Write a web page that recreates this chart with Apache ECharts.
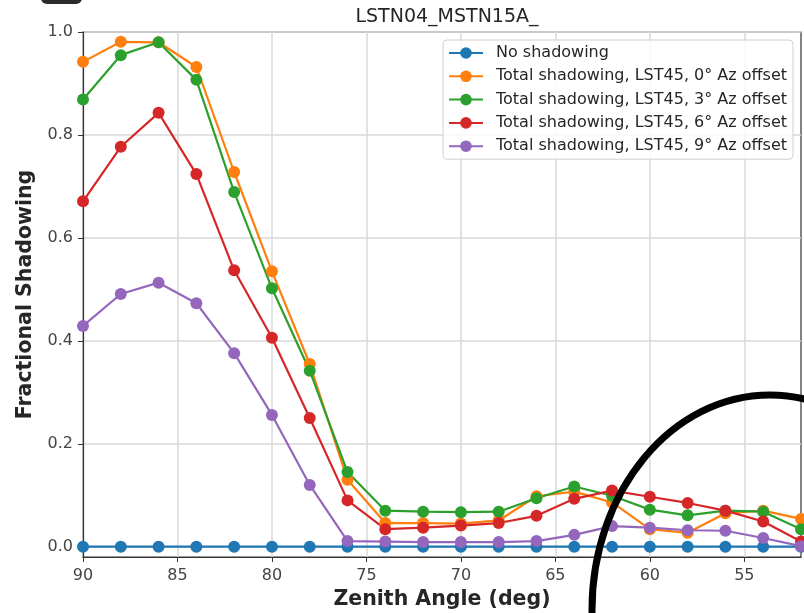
<!DOCTYPE html>
<html>
<head>
<meta charset="utf-8">
<script src="https://cdn.jsdelivr.net/npm/echarts@6/dist/echarts.min.js"></script>
<style>
html,body{margin:0;padding:0;background:#fff;}
#chart{width:804px;height:613px;}
</style>
</head>
<body>
<div id="chart"></div>
<script>
var zenith = [90,88,86,84,82,80,78,76,74,72,70,68,66,64,62,60,58,56,54,52];
var noShadow = [0,0,0,0,0,0,0,0,0,0,0,0,0,0,0,0,0,0,0,0];
var az0 = [0.942,0.981,0.980,0.932,0.728,0.535,0.355,0.130,0.046,0.046,0.045,0.051,0.098,0.107,0.086,0.034,0.027,0.065,0.070,0.054];
var az3 = [0.869,0.955,0.980,0.907,0.689,0.502,0.342,0.145,0.070,0.068,0.067,0.068,0.094,0.117,0.099,0.072,0.061,0.070,0.068,0.034];
var az6 = [0.671,0.777,0.843,0.724,0.537,0.406,0.250,0.090,0.034,0.037,0.041,0.046,0.060,0.093,0.109,0.097,0.085,0.070,0.049,0.010];
var az9 = [0.429,0.491,0.513,0.473,0.376,0.256,0.120,0.011,0.010,0.009,0.009,0.009,0.011,0.023,0.040,0.037,0.032,0.031,0.017,0.001];
var seriesNames = ['No shadowing','Total shadowing, LST45, 0° Az offset','Total shadowing, LST45, 3° Az offset','Total shadowing, LST45, 6° Az offset','Total shadowing, LST45, 9° Az offset'];
var seriesValues = [noShadow, az0, az3, az6, az9];
var colors = ['#1f77b4','#ff7f0e','#2ca02c','#d62728','#9467bd'];
var xTicks = [55,60,65,70,75,80,85,90];
var yTicks = [0,0.2,0.4,0.6,0.8,1.0];

var font = 'DejaVu Sans';
var chart = echarts.init(document.getElementById('chart'), null, {renderer:'canvas'});
var series = seriesValues.map(function(vals, i){
  return {
    name: seriesNames[i],
    type: 'line',
    data: zenith.map(function(z, j){ return [z, vals[j]]; }),
    symbol: 'circle',
    symbolSize: 12,
    showSymbol: true,
    clip: true,
    lineStyle: {width: 2.2, color: colors[i]},
    itemStyle: {color: colors[i]},
    emphasis: {disabled: true},
    animation: false
  };
});
chart.setOption({
  animation: false,
  title: {
    text: 'LSTN04_MSTN15A_',
    left: 442, top: 3, textAlign: 'center',
    textStyle: {fontFamily: font, fontSize: 19, fontWeight: 'normal', color: '#262626'}
  },
  grid: {
    left: 83, right: 3, top: 32, bottom: 56,
    containLabel: false, outerBoundsMode: 'none',
    show: true, borderColor: '#333', borderWidth: 1.2, backgroundColor: 'transparent'
  },
  legend: {
    orient: 'vertical',
    left: 443, top: 40,
    padding: [5, 6, 5, 5],
    itemWidth: 34, itemHeight: 14.5, itemGap: 7.3,
    backgroundColor: 'rgba(255,255,255,0.85)',
    borderColor: '#d0d0d0', borderWidth: 1, borderRadius: 4,
    textStyle: {fontFamily: font, fontSize: 16, color: '#262626', lineHeight: 16, padding: [0,0,0,8]},
    data: seriesNames
  },
  xAxis: {
    type: 'value', min: 52, max: 90, inverse: true,
    name: 'Zenith Angle (deg)', nameLocation: 'middle', nameGap: 32,
    nameTextStyle: {fontFamily: font, fontSize: 20.5, fontWeight: 'bold', color: '#262626'},
    axisLine: {show: true, onZero: false, lineStyle: {color: '#333', width: 1.2}},
    axisTick: {show: true, length: 5, customValues: xTicks, lineStyle: {color: '#333', width: 1}},
    axisLabel: {customValues: xTicks, margin: 11, fontFamily: font, fontSize: 16, color: '#444'},
    splitLine: {show: true, lineStyle: {color: '#d9d9d9', width: 1.5}}
  },
  yAxis: {
    type: 'value', min: -0.02, max: 1.0,
    name: 'Fractional Shadowing', nameLocation: 'middle', nameGap: 41,
    nameTextStyle: {fontFamily: font, fontSize: 20.5, fontWeight: 'bold', color: '#262626'},
    axisLine: {show: true, onZero: false, lineStyle: {color: '#333', width: 1.2}},
    axisTick: {show: true, length: 5, customValues: yTicks, lineStyle: {color: '#333', width: 1}},
    axisLabel: {customValues: yTicks, margin: 10, fontFamily: font, fontSize: 16, color: '#444',
      formatter: function(v){ return v.toFixed(1); }},
    splitLine: {show: true, lineStyle: {color: '#d9d9d9', width: 1.5}}
  },
  graphic: [
    {type: 'rect', shape: {x: 41, y: -10, width: 41, height: 14, r: 6}, style: {fill: '#2b2b2b'}, z: 100},
    {type: 'ellipse', shape: {cx: 770, cy: 610, rx: 178, ry: 215}, style: {fill: 'none', stroke: '#000', lineWidth: 7}, z: 100}
  ],
  series: series
});
</script>
</body>
</html>
